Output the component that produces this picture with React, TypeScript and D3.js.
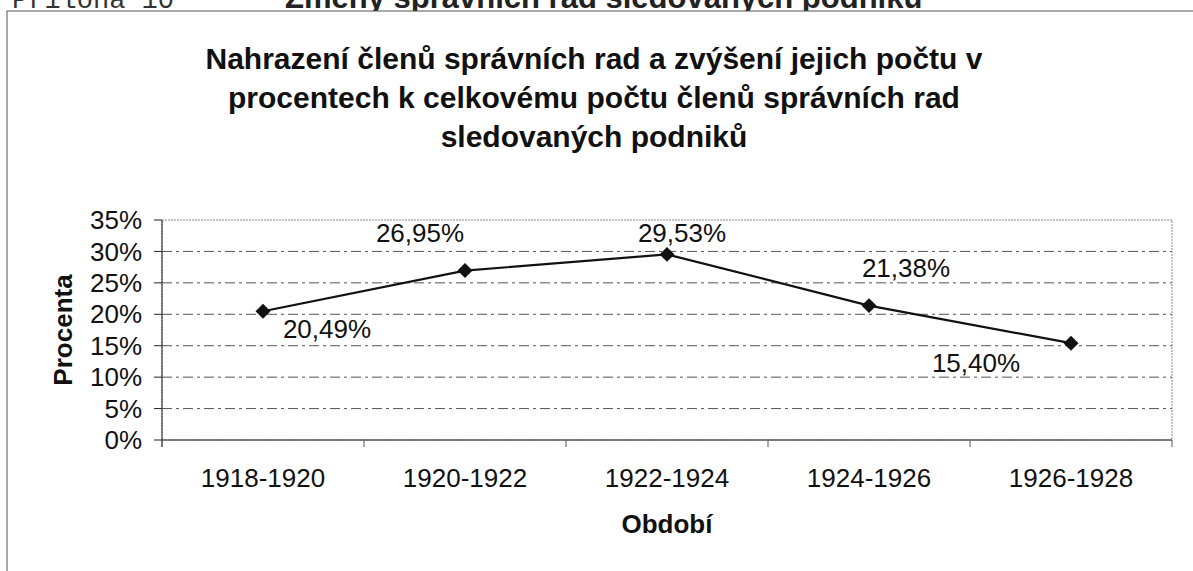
import * as d3 from "d3";

const categories = ["1918-1920", "1920-1922", "1922-1924", "1924-1926", "1926-1928"];
const values = [20.49, 26.95, 29.53, 21.38, 15.4];
const valueLabels = ["20,49%", "26,95%", "29,53%", "21,38%", "15,40%"];
const yTicks = [0, 5, 10, 15, 20, 25, 30, 35];
const titleLines = [
  "Nahrazení členů správních rad a zvýšení jejich počtu v",
  "procentech k celkovému počtu členů správních rad",
  "sledovaných podniků",
];

// hand-placed data label offsets (label centre / baseline relative to the point)
const labelOffsets: [number, number][] = [
  [64, 27],
  [-45, -29],
  [15, -12],
  [37, -29],
  [-95, 29],
];

const W = 1193;
const H = 571;
const plot = { left: 162, right: 1172, top: 220, bottom: 440 };
const font = "'Liberation Sans', Arial, sans-serif";

const App = () => {
  const x = d3.scaleBand().domain(categories).range([plot.left, plot.right]).padding(0);
  const y = d3.scaleLinear().domain([0, 35]).range([plot.bottom, plot.top]);

  const pts = values.map((v, i) => [x(categories[i])! + x.bandwidth() / 2, y(v)] as [number, number]);
  const line = d3.line()(pts) || "";
  const diamond = d3.symbol(d3.symbolSquare, 112)() || "";
  const boundaries = [...categories.map((c) => x(c)!), plot.right];

  return (
    <svg
      width={W}
      height={H}
      style={{ position: "absolute", left: 0, top: 0, background: "#fff" }}
      fontFamily={font}
    >
      {/* page header, cut off by the scan */}
      <text x={12} y={8} fontFamily="'Liberation Mono', 'Courier New', monospace" fontSize={27} fill="#333">
        Příloha 10
      </text>
      <text x={285} y={8} fontSize={31} fontWeight="bold" fill="#222">
        Změny správních rad sledovaných podniků
      </text>

      {/* chart area border */}
      <rect x={7} y={11} width={1210} height={600} fill="#fff" stroke="#555" strokeWidth={1} />

      {/* title */}
      {titleLines.map((t, i) => (
        <text key={i} x={594} y={69 + i * 39} textAnchor="middle" fontSize={30} fontWeight="bold" fill="#111">
          {t}
        </text>
      ))}

      {/* gridlines */}
      {yTicks.slice(1, -1).map((t) => (
        <line
          key={t}
          x1={plot.left}
          x2={plot.right}
          y1={y(t)}
          y2={y(t)}
          stroke="#555"
          strokeWidth={1}
          strokeDasharray="10 4 3 4"
        />
      ))}
      <rect
        x={plot.left}
        y={plot.top}
        width={plot.right - plot.left}
        height={plot.bottom - plot.top}
        fill="none"
        stroke="#888"
        strokeDasharray="2 1"
      />

      {/* y axis */}
      <line x1={plot.left} x2={plot.left} y1={plot.top} y2={plot.bottom + 7} stroke="#222" />
      {yTicks.map((t) => (
        <g key={t}>
          <line x1={plot.left - 8} x2={plot.left} y1={y(t)} y2={y(t)} stroke="#222" />
          <text x={142} y={y(t)} dy="0.35em" textAnchor="end" fontSize={26} fill="#111">
            {t}%
          </text>
        </g>
      ))}

      {/* x axis */}
      <line x1={plot.left} x2={plot.right} y1={plot.bottom} y2={plot.bottom} stroke="#222" />
      {boundaries.map((b, i) => (
        <line key={i} x1={b} x2={b} y1={plot.bottom} y2={plot.bottom + 7} stroke="#555" />
      ))}
      {categories.map((c) => (
        <text key={c} x={x(c)! + x.bandwidth() / 2} y={487} textAnchor="middle" fontSize={26} fill="#111">
          {c}
        </text>
      ))}

      {/* axis titles */}
      <text
        transform={`translate(72,${(plot.top + plot.bottom) / 2}) rotate(-90)`}
        textAnchor="middle"
        fontSize={26}
        fontWeight="bold"
        fill="#111"
      >
        Procenta
      </text>
      <text x={(plot.left + plot.right) / 2} y={533} textAnchor="middle" fontSize={26} fontWeight="bold" fill="#111">
        Období
      </text>

      {/* series */}
      <path d={line} fill="none" stroke="#111" strokeWidth={2.2} />
      {pts.map((p, i) => (
        <path key={i} d={diamond} transform={`translate(${p[0]},${p[1]}) rotate(45)`} fill="#111" />
      ))}
      {pts.map((p, i) => (
        <text
          key={i}
          x={p[0] + labelOffsets[i][0]}
          y={p[1] + labelOffsets[i][1]}
          textAnchor="middle"
          fontSize={26}
          fill="#111"
        >
          {valueLabels[i]}
        </text>
      ))}
    </svg>
  );
};

export default App;
